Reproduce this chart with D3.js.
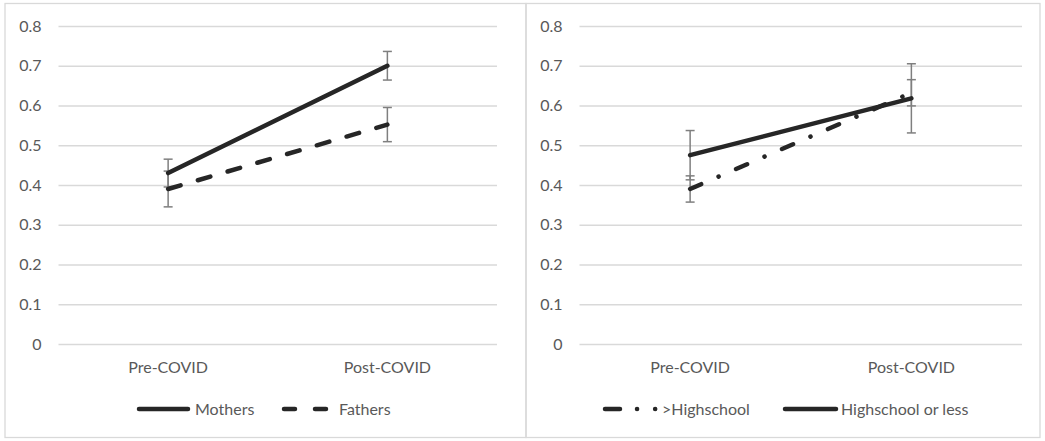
<!doctype html>
<html>
  <head>
    <script src="https://cdnjs.cloudflare.com/ajax/libs/d3/7.8.5/d3.min.js"></script>
    <style>
      body { margin: 0; background: #fff; }
      text { font-family: Lato, "Open Sans", sans-serif; fill: #595959; }
    </style>
  </head>
  <body>
    <svg id="chart" width="1045" height="441"></svg>
    <script>
      // values
      var categories = ["Pre-COVID", "Post-COVID"];
      var yTicks = [0, 0.1, 0.2, 0.3, 0.4, 0.5, 0.6, 0.7, 0.8];

      var mothers = [0.43, 0.70];
      var mothersErr = [0.035, 0.036];
      var fathers = [0.39, 0.552];
      var fathersErr = [0.045, 0.043];

      var aboveHs = [0.39, 0.632];
      var aboveHsErr = [0.033, 0.033];
      var hsOrLess = [0.475, 0.618];
      var hsOrLessErr = [0.062, 0.087];

      var svg = d3.select("#chart");
      var ink = "#262626";

      var styles = {
        solid: null,
        dash: "13,18",
        dashDot: "12,19,0.1,19"
      };

      function panel(opts) {
        var g = svg.append("g");

        g.append("rect")
          .attr("x", opts.box[0]).attr("y", 3.5)
          .attr("width", opts.box[1] - opts.box[0]).attr("height", 434)
          .attr("fill", "none").attr("stroke", "#d9d9d9").attr("stroke-width", 1.3);

        var x = d3.scaleBand().domain(categories).range(opts.plot).padding(0);
        var y = d3.scaleLinear().domain([0, 0.8]).range([344, 26]);
        var cx = function(c) { return x(c) + x.bandwidth() / 2; };

        var yAxis = d3.axisLeft(y).tickValues(yTicks)
          .tickSize(-(opts.plot[1] - opts.plot[0])).tickPadding(17)
          .tickFormat(function(d) { return d === 0 ? "0" : d3.format(".1f")(d); });
        var ya = g.append("g").attr("transform", "translate(" + opts.plot[0] + ",0)").call(yAxis);
        ya.select(".domain").remove();
        ya.selectAll("line").attr("stroke", "#d9d9d9").attr("stroke-width", 1.3);
        ya.selectAll("text").attr("font-size", 16).style("fill", "#595959");

        var xAxis = d3.axisBottom(x).tickSize(0).tickPadding(0);
        var xa = g.append("g").attr("transform", "translate(0,362)").call(xAxis);
        xa.select(".domain").remove();
        xa.selectAll("text").attr("font-size", 16).attr("dy", "0.71em").attr("y", 0).style("fill", "#595959");

        // error bars under the lines
        opts.series.forEach(function(s) {
          var eb = g.append("g");
          categories.forEach(function(c, i) {
            var top = y(s.values[i] + s.err[i]), bot = y(s.values[i] - s.err[i]);
            eb.append("line").attr("x1", cx(c)).attr("x2", cx(c)).attr("y1", top).attr("y2", bot);
            eb.append("line").attr("x1", cx(c) - 4.5).attr("x2", cx(c) + 4.5).attr("y1", top).attr("y2", top);
            eb.append("line").attr("x1", cx(c) - 4.5).attr("x2", cx(c) + 4.5).attr("y1", bot).attr("y2", bot);
          });
          eb.selectAll("line").attr("stroke", "#7f7f7f").attr("stroke-width", 1.5);
        });

        var line = d3.line().x(function(d, i) { return cx(categories[i]); }).y(function(d) { return y(d); });
        opts.series.forEach(function(s) {
          g.append("path").datum(s.values)
            .attr("d", line)
            .attr("fill", "none").attr("stroke", ink).attr("stroke-width", 4.5)
            .attr("stroke-linecap", "round")
            .attr("stroke-dasharray", styles[s.style]);
        });

        // legend
        opts.legend.forEach(function(l) {
          g.append("line")
            .attr("x1", l.x1).attr("x2", l.x2).attr("y1", 409).attr("y2", 409)
            .attr("stroke", ink).attr("stroke-width", 4.5).attr("stroke-linecap", "round")
            .attr("stroke-dasharray", l.dash);
          g.append("text").attr("x", l.tx).attr("y", 409).attr("dy", "0.35em")
            .attr("font-size", 16).text(l.label);
        });
      }

      panel({
        box: [5, 526],
        plot: [58.5, 497],
        series: [
          { values: mothers, err: mothersErr, style: "solid" },
          { values: fathers, err: fathersErr, style: "dash" }
        ],
        legend: [
          { label: "Mothers", x1: 139, x2: 188, tx: 195, dash: null },
          { label: "Fathers", x1: 284, x2: 326, tx: 339, dash: "11,20" }
        ]
      });

      panel({
        box: [526, 1040],
        plot: [579.5, 1022],
        series: [
          { values: hsOrLess, err: hsOrLessErr, style: "solid" },
          { values: aboveHs, err: aboveHsErr, style: "dashDot" }
        ],
        legend: [
          { label: ">Highschool", x1: 605, x2: 660, tx: 662, dash: "15,17,0.1,18,0.1,40" },
          { label: "Highschool or less", x1: 785, x2: 836, tx: 841, dash: null }
        ]
      });
    </script>
  </body>
</html>
